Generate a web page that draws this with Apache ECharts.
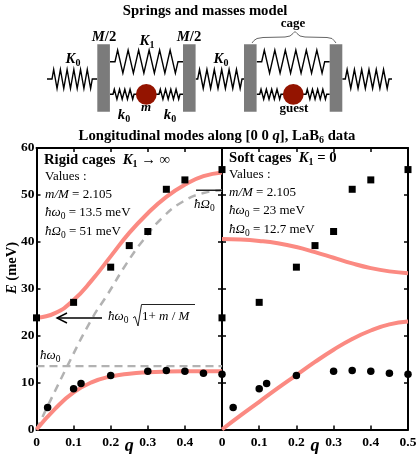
<!DOCTYPE html>
<html><head><meta charset="utf-8">
<style>html,body{margin:0;padding:0;background:#fff}#c{width:416px;height:454px}</style>
<script src="https://cdn.jsdelivr.net/npm/echarts@6/dist/echarts.min.js"></script>
</head><body><div id="c"></div>
<script>
// ---- data ----
const yTicks = [0,10,20,30,40,50,60];
const xTicks = [0,0.1,0.2,0.3,0.4,0.5];
const squareQ = [0,0.1,0.2,0.25,0.3,0.35,0.4,0.5];
const squareE = [23.8,27.1,34.6,39.2,42.2,51.2,53.2,55.4];
const circleQ = [0.03,0.1,0.12,0.2,0.3,0.35,0.4,0.45,0.5];
const circleE = [4.7,8.7,9.8,11.5,12.4,12.6,12.4,12,11.8];
const curveQ = [0,0.05,0.1,0.15,0.2,0.25,0.3,0.35,0.4,0.45,0.5];
const rigidUpper = [23.8,24.8,27.6,31.9,36.9,41.9,46.1,49.6,52.2,54,54.8];
const rigidLower = [0,4.4,7.9,10.1,11.3,11.9,12.2,12.35,12.4,12.4,12.4];
const softUpper = [40.6,40.5,40.2,39.7,38.9,37.8,36.6,35.4,34.4,33.7,33.3];
const softLower = [0,3,5.9,8.8,11.6,14.4,17,19.3,21.1,22.4,23];
const acousticQ = [0,0.083,0.15,0.19,0.243,0.287,0.34,0.395,0.45,0.5];
const acousticE = [0,13.5,23.7,28.6,35.4,40.3,45.2,48.6,50.4,51];
const flatQ = [0,0.5];
const flatE = [13.5,13.5];
const omegaQ = [0.43,0.5];
const omegaE = [51,51];

const zip = (a,b)=>a.map((v,i)=>[v,b[i]]);
const F = '"Liberation Serif","Times New Roman",serif';
const PINK='#fb8a82', GRAY='#b2b2b2', RED='#941400', BLOCK='#7b7b7b';

const rich = {
  n:{fontFamily:F,fontSize:13,color:'#222',lineHeight:16},
  i:{fontFamily:F,fontSize:13,fontStyle:'italic',color:'#222',lineHeight:16},
  s:{fontFamily:F,fontSize:9.5,color:'#222',verticalAlign:'bottom',lineHeight:16},
  b:{fontFamily:F,fontSize:13,fontWeight:'bold',color:'#000',lineHeight:17},
  h:{fontFamily:F,fontSize:14.7,fontWeight:'bold',color:'#000',lineHeight:18},
  bi:{fontFamily:F,fontSize:13,fontWeight:'bold',fontStyle:'italic',color:'#000',lineHeight:17},
  hi:{fontFamily:F,fontSize:14.7,fontWeight:'bold',fontStyle:'italic',color:'#000',lineHeight:18},
  hs:{fontFamily:F,fontSize:10,fontWeight:'bold',color:'#000',verticalAlign:'bottom',lineHeight:18},
  e:{fontFamily:F,fontSize:14.5,fontWeight:'bold',color:'#000',lineHeight:18},
  ei:{fontFamily:F,fontSize:14.5,fontWeight:'bold',fontStyle:'italic',color:'#000',lineHeight:18}
};
const note=(x,y,text,align,rot)=>({type:'text',x,y,rotation:rot||0,z:50,
  style:{text,rich,textAlign:align||'left',textVerticalAlign:'middle',fill:'#000',font:'13px '+F}});
const stroke=(w,c)=>({stroke:c||'#000',lineWidth:w,fill:'none'});
function spring(x0,x1,y,amp,n,lead){
  const pts=[[x0,y],[x0+lead,y]];
  const a=x0+lead,b=x1-lead,st=(b-a)/(2*n);
  for(let i=0;i<2*n;i++){pts.push([a+st*(i+0.5),y+(i%2?amp:-amp)]);}
  pts.push([b,y],[x1,y]);
  return {type:'polyline',z:20,shape:{points:pts},style:stroke(1.4)};
}
const block=(x)=>({type:'rect',z:21,shape:{x,y:44.3,width:12.6,height:67.4},style:{fill:BLOCK}});
const mass=(cx)=>({type:'circle',z:22,shape:{cx,cy:94.3,r:10.4},style:{fill:RED}});

const graphic=[
  spring(47,97.3,79,9.5,6,5),spring(195.7,244,79,9.5,6,2),spring(342.3,392,79,9.5,6,3),
  spring(110,183,61.7,11.5,6,5),spring(256.7,329.7,61.7,11.5,6,5),
  spring(110,137,94.3,5,4,3),spring(156,183,94.3,5,4,3),
  spring(256.7,284,94.3,5,4,3),spring(303,329.7,94.3,5,4,3),
  block(97.3),block(183),block(244),block(329.7),mass(146.3),mass(293.3),
  {type:'polyline',z:20,shape:{points:[[252,43],[254,40.5],[257,38.5],[263,37.5],[285,37],[290,36],[293,33.5],[295,31.5],[297,33.5],[300,36],[305,37],[327,37.5],[332,38.5],[334,40.5],[336,43]]},style:stroke(1,'#666')},
  note(205,11,'{h|Springs and masses model}','center'),
  note(104,37,'{hi|M}{h|/}{h|2}','center'),
  note(189,37,'{hi|M}{h|/}{h|2}','center'),
  note(147,41,'{hi|K}{hs|1}','center'),
  note(73,59,'{hi|K}{hs|0}','center'),
  note(221,59,'{hi|K}{hs|0}','center'),
  note(293,24,'{b|cage}','center'),
  note(294,109,'{b|guest}','center'),
  note(146,108,'{bi|m}','center'),
  note(124,115,'{hi|k}{hs|0}','center'),
  note(170,115,'{hi|k}{hs|0}','center'),
  note(217,136,'{h|Longitudinal modes along [0 0 }{hi|q}{h|], LaB}{hs|6}{h| data}','center'),
  note(44,160,'{h|Rigid cages  }{hi|K}{hs|1}{h| → ∞}'),
  note(45,177,'{n|Values :}'),
  note(45,195,'{i|m/M}{n| = 2.105}'),
  note(45,213,'{i|ħω}{s|0}{n| = 13.5 meV}'),
  note(45,232,'{i|ħΩ}{s|0}{n| = 51 meV}'),
  note(229,158,'{h|Soft cages  }{hi|K}{hs|1}{h| = 0}'),
  note(229,175,'{n|Values :}'),
  note(229,193,'{i|m/M}{n| = 2.105}'),
  note(229,211,'{i|ħω}{s|0}{n| = 23 meV}'),
  note(229,230,'{i|ħΩ}{s|0}{n| = 12.7 meV}'),
  note(194,205,'{i|ħΩ}{s|0}'),
  note(40,356,'{i|ħω}{s|0}'),
  note(108,317,'{i|ħω}{s|0}'),
  note(142,317,'{n|1+ }{i|m}{n| / }{i|M}'),
  {type:'polyline',z:30,shape:{points:[[133,318],[135,316.5],[138,326],[141.5,304.5],[195,304.5]]},style:stroke(1,'#222')},
  {type:'line',z:30,shape:{x1:57,y1:318,x2:102,y2:318},style:stroke(1.4)},
  {type:'polyline',z:30,shape:{points:[[67,313],[57,318],[67,323]]},style:stroke(1.4)},
  note(12,268,'{ei|E}{e| (meV)}','center',Math.PI/2)
];

const grids=[{left:36.5,width:185.5,top:148,height:281.5,outerBoundsMode:'none'},{left:222,width:186,top:148,height:281.5,outerBoundsMode:'none'}];
const tickStyle={show:true,inside:true,length:4,lineStyle:{color:'#000',width:1.5}};
const lineStyle={show:true,onZero:false,lineStyle:{color:'#000',width:2}};
const labelStyle={fontFamily:F,fontWeight:'bold',fontSize:13.5,color:'#000'};
const xAxis=[],yAxis=[];
[0,1].forEach(g=>{
  xAxis.push({gridIndex:g,type:'value',min:0,max:0.5,interval:0.1,position:'bottom',
    axisLine:lineStyle,axisTick:tickStyle,splitLine:{show:false},
    name:'q',nameLocation:'middle',nameGap:8,nameMoveOverlap:false,
    nameTextStyle:{fontFamily:F,fontWeight:'bold',fontStyle:'italic',fontSize:18,color:'#000'},
    axisLabel:{...labelStyle,margin:6,hideOverlap:false,showMinLabel:true,showMaxLabel:true,
      formatter:v=>(g===0&&v===xTicks[5])?'':String(v)}});
  xAxis.push({gridIndex:g,type:'value',min:0,max:0.5,interval:0.1,position:'top',
    axisLine:lineStyle,axisTick:tickStyle,axisLabel:{show:false},splitLine:{show:false}});
  yAxis.push({gridIndex:g,type:'value',min:0,max:60,interval:10,position:'left',
    axisLine:lineStyle,axisTick:tickStyle,splitLine:{show:false},
    axisLabel:{show:g===0,...labelStyle,margin:2}});
  yAxis.push({gridIndex:g,type:'value',min:0,max:60,interval:10,position:'right',
    axisLine:lineStyle,axisTick:tickStyle,axisLabel:{show:false},splitLine:{show:false}});
});
const lineS=(g,x,y,color,width,type,z)=>({type:'line',xAxisIndex:g*2,yAxisIndex:g*2,data:zip(x,y),smooth:x.length>2?0.5:false,
  showSymbol:false,symbol:'none',clip:false,z:z||3,silent:true,lineStyle:{color,width,type:type||'solid',cap:'butt'}});
const dots=(g,x,y,sym)=>({type:'scatter',xAxisIndex:g*2,yAxisIndex:g*2,data:zip(x,y),symbol:sym,symbolSize:sym==='rect'?7:7.5,
  clip:false,z:6,silent:true,itemStyle:{color:'#000',opacity:1}});
const series=[
  lineS(0,acousticQ,acousticE,GRAY,2.5,[8,6],2),
  lineS(0,flatQ,flatE,GRAY,2.2,[8,5],2),
  lineS(0,omegaQ,omegaE,'#000',1.3,'solid',4),
  lineS(0,curveQ,rigidUpper,PINK,4),
  lineS(0,curveQ,rigidLower,PINK,4),
  dots(0,squareQ,squareE,'rect'),
  dots(0,circleQ,circleE,'circle'),
  lineS(1,curveQ,softUpper,PINK,4),
  lineS(1,curveQ,softLower,PINK,4),
  dots(1,squareQ,squareE,'rect'),
  dots(1,circleQ,circleE,'circle')
];
const chart=echarts.init(document.getElementById('c'),null,{renderer:'canvas'});
chart.setOption({animation:false,backgroundColor:'#fff',grid:grids,xAxis,yAxis,series,graphic});
</script></body></html>
